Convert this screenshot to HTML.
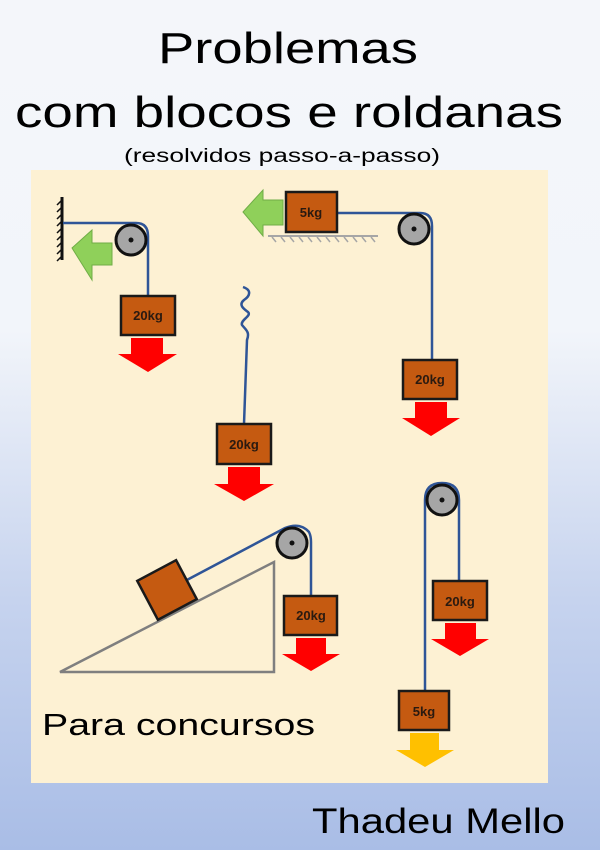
<!DOCTYPE html>
<html><head><meta charset="utf-8"><style>
html,body{margin:0;padding:0;width:600px;height:850px;overflow:hidden}
body{background:linear-gradient(to bottom,#f4f6fa 0px,#f2f5fa 330px,#c6d3ee 600px,#a9bde6 850px)}
svg{display:block}
text{font-family:"Liberation Sans",sans-serif}
.b{fill:#c55a11;stroke:#1a1a1a;stroke-width:2.5}
.r{fill:#b4c7e7;fill:none;stroke:#2f5597;stroke-width:2.5}
.k{font-weight:bold;font-size:13px;fill:#2a1a10}
</style></head><body>
<svg width="600" height="850" viewBox="0 0 600 850">
<rect x="31" y="170" width="517" height="613" fill="#fdf1d3"/>
<text x="288" y="63" font-size="44" text-anchor="middle" textLength="260" lengthAdjust="spacingAndGlyphs">Problemas</text>
<text x="289" y="127" font-size="44" text-anchor="middle" textLength="548" lengthAdjust="spacingAndGlyphs">com blocos e roldanas</text>
<text x="282" y="162" font-size="19" text-anchor="middle" textLength="316" lengthAdjust="spacingAndGlyphs">(resolvidos passo-a-passo)</text>
<text x="42" y="735" font-size="31" textLength="273" lengthAdjust="spacingAndGlyphs">Para concursos</text>
<text x="312" y="833" font-size="35" textLength="253" lengthAdjust="spacingAndGlyphs">Thadeu Mello</text>

<!-- panel 1 -->
<line x1="62" y1="197" x2="62" y2="260" stroke="#111" stroke-width="3"/>
<path d="M62 200 l-5 5 M62 207 l-5 5 M62 214 l-5 5 M62 221 l-5 5 M62 228 l-5 5 M62 235 l-5 5 M62 242 l-5 5 M62 249 l-5 5 M62 256 l-5 5" stroke="#111" stroke-width="1.5"/>
<path class="r" d="M63 223 H136 Q148 223 148 236 V296"/>
<circle cx="131" cy="240" r="15" fill="#a6a6a6" stroke="#111" stroke-width="3"/>
<circle cx="131" cy="240" r="2.5" fill="#111"/>
<polygon points="72,248 92,230 92,243 112,243 112,265 92,265 92,280" fill="#8fd05a" stroke="#70ad47"/>
<rect class="b" x="121" y="296" width="54" height="39"/>
<text class="k" x="148" y="320" text-anchor="middle">20kg</text>
<polygon points="131,338 163,338 163,354 177,354 148,372 118,354 131,354" fill="#f00"/>

<!-- panel 2 -->
<polygon points="243,212 263,190 263,200 283,200 283,225 263,225 263,236" fill="#8fd05a" stroke="#70ad47"/>
<line x1="268" y1="236" x2="378" y2="236" stroke="#a6a6a6" stroke-width="2"/>
<path d="M272 237 l4 5 M281 237 l4 5 M290 237 l4 5 M299 237 l4 5 M308 237 l4 5 M317 237 l4 5 M326 237 l4 5 M335 237 l4 5 M344 237 l4 5 M353 237 l4 5 M362 237 l4 5 M371 237 l4 5" stroke="#a6a6a6" stroke-width="1.5"/>
<path class="r" d="M337 213 H420 Q432 213 432 226 V360"/>
<circle cx="414" cy="229" r="15" fill="#a6a6a6" stroke="#111" stroke-width="3"/>
<circle cx="414" cy="229" r="2.5" fill="#111"/>
<rect class="b" x="286" y="192" width="51" height="40"/>
<text class="k" x="311" y="217" text-anchor="middle">5kg</text>
<rect class="b" x="403" y="360" width="54" height="39"/>
<text class="k" x="430" y="384" text-anchor="middle">20kg</text>
<polygon points="415,402 447,402 447,418 460,418 431,436 402,418 415,418" fill="#f00"/>

<!-- spring -->
<path class="r" d="M243 287 C252 290 250 296 244 300 C238 305 244 309 248 312 C252 316 240 320 242 325 C246 330 250 332 247 340 L244 424" stroke-width="2"/>
<rect class="b" x="217" y="424" width="54" height="40"/>
<text class="k" x="244" y="449" text-anchor="middle">20kg</text>
<polygon points="228,467 260,467 260,484 274,484 244,501 214,484 228,484" fill="#f00"/>

<!-- incline -->
<polygon points="60,672 274,672 274,562" fill="none" stroke="#7f7f7f" stroke-width="2.5"/>
<path class="r" d="M185 581 L285 528 Q300 522 309 532 Q311 536 311 542 V596"/>
<circle cx="292" cy="543" r="15" fill="#a6a6a6" stroke="#111" stroke-width="3"/>
<circle cx="292" cy="543" r="2.5" fill="#111"/>
<rect class="b" x="145" y="568" width="44" height="44" transform="rotate(-28 167 590)"/>
<rect class="b" x="284" y="596" width="53" height="39"/>
<text class="k" x="311" y="620" text-anchor="middle">20kg</text>
<polygon points="296,638 326,638 326,654 340,654 311,671 282,654 296,654" fill="#f00"/>

<!-- double -->
<path class="r" d="M425 691 V500 Q425 483 442 483 Q459 483 459 500 V581"/>
<circle cx="442" cy="500" r="15" fill="#a6a6a6" stroke="#111" stroke-width="3"/>
<circle cx="442" cy="500" r="2.5" fill="#111"/>
<rect class="b" x="433" y="581" width="54" height="39"/>
<text class="k" x="460" y="606" text-anchor="middle">20kg</text>
<polygon points="445,623 476,623 476,639 489,639 460,656 431,639 445,639" fill="#f00"/>
<rect class="b" x="399" y="691" width="50" height="39"/>
<text class="k" x="424" y="716" text-anchor="middle">5kg</text>
<polygon points="410,733 439,733 439,750 454,750 425,767 396,750 410,750" fill="#ffc000"/>
</svg>
</body></html>
